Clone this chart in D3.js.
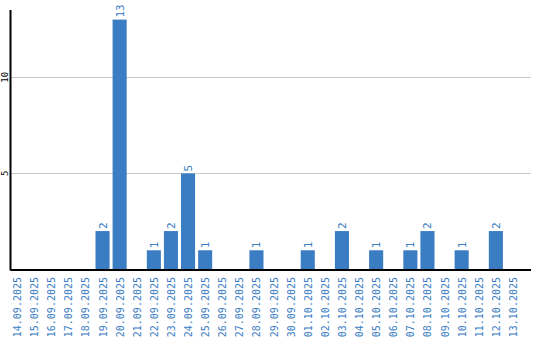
<!DOCTYPE html>
<html>
<head>
<meta charset="utf-8">
<script src="https://cdn.jsdelivr.net/npm/d3@7"></script>
<style>
  body { margin: 0; background: #fff; }
  svg text { font-family: "DejaVu Sans Mono", monospace; }
</style>
</head>
<body>
<div id="chart"></div>
<script>
var dates = ['14.09.2025','15.09.2025','16.09.2025','17.09.2025','18.09.2025','19.09.2025','20.09.2025',
    '21.09.2025','22.09.2025','23.09.2025','24.09.2025','25.09.2025','26.09.2025','27.09.2025',
    '28.09.2025','29.09.2025','30.09.2025','01.10.2025','02.10.2025','03.10.2025','04.10.2025',
    '05.10.2025','06.10.2025','07.10.2025','08.10.2025','09.10.2025','10.10.2025','11.10.2025',
    '12.10.2025','13.10.2025'];
var counts = [0,0,0,0,0,2,13,0,1,2,5,1,0,0,1,0,0,1,0,2,0,1,0,1,2,0,1,0,2,0];
var yTicks = [5, 10];

var blue = '#3b7dc3';
var width = 540, height = 340;
var plotLeft = 10.5, plotRight = 531, plotTop = 10, plotBottom = 269.5;

var svg = d3.select('#chart').append('svg')
    .attr('width', width)
    .attr('height', height);

// band step 17px, bar 14px
var x = d3.scaleBand()
    .domain(dates)
    .range([10, 10 + 17 * dates.length])
    .paddingInner(3 / 17)
    .paddingOuter(0);

var y = d3.scaleLinear()
    .domain([0, 13.5])
    .range([plotBottom, plotTop]);

// grid lines
svg.selectAll('line.grid')
    .data(yTicks)
    .enter()
        .append('line')
        .attr('class', 'grid')
        .attr('x1', plotLeft)
        .attr('x2', plotRight)
        .attr('y1', function(d){ return Math.round(y(d)) + 0.5; })
        .attr('y2', function(d){ return Math.round(y(d)) + 0.5; })
        .style('stroke', '#c8c8c8')
        .style('stroke-width', 1);

svg.selectAll('text.ytick')
    .data(yTicks)
    .enter()
        .append('text')
        .attr('class', 'ytick')
        .attr('transform', function(d){ return 'translate(8,' + y(d) + ') rotate(-90)'; })
        .attr('text-anchor', 'middle')
        .style('font-size', '9px')
        .style('fill', '#000')
        .text(function(d){ return d; });

// bars
svg.selectAll('rect')
    .data(counts)
    .enter()
        .append('rect')
        .attr('x', function(d, i){ return x(dates[i]); })
        .attr('width', x.bandwidth())
        .attr('y', function(d){ return y(d); })
        .attr('height', function(d){ return y(0) - y(d); })
        .style('fill', blue);

// value labels above bars
counts.forEach(function(d, i){
    if (d <= 0) return;
    svg.append('text')
        .attr('transform', 'translate(' + (x(dates[i]) + x.bandwidth() / 2 + 4) + ',' + (y(d) - 2) + ') rotate(-90)')
        .attr('text-anchor', 'start')
        .style('font-size', '11px')
        .style('fill', blue)
        .text(d);
});

// axes lines
svg.append('line')
    .attr('x1', plotLeft).attr('x2', plotLeft)
    .attr('y1', plotTop).attr('y2', plotBottom + 1)
    .style('stroke', '#000').style('stroke-width', 2);
svg.append('line')
    .attr('x1', plotLeft).attr('x2', plotRight)
    .attr('y1', plotBottom + 0.5).attr('y2', plotBottom + 0.5)
    .style('stroke', '#000').style('stroke-width', 2);

// date labels
dates.forEach(function(d){
    svg.append('text')
        .attr('transform', 'translate(' + (x(d) + x.bandwidth() / 2 + 4) + ',277) rotate(-90)')
        .attr('text-anchor', 'end')
        .style('font-size', '10px')
        .style('fill', blue)
        .text(d);
});
</script>
</body>
</html>
